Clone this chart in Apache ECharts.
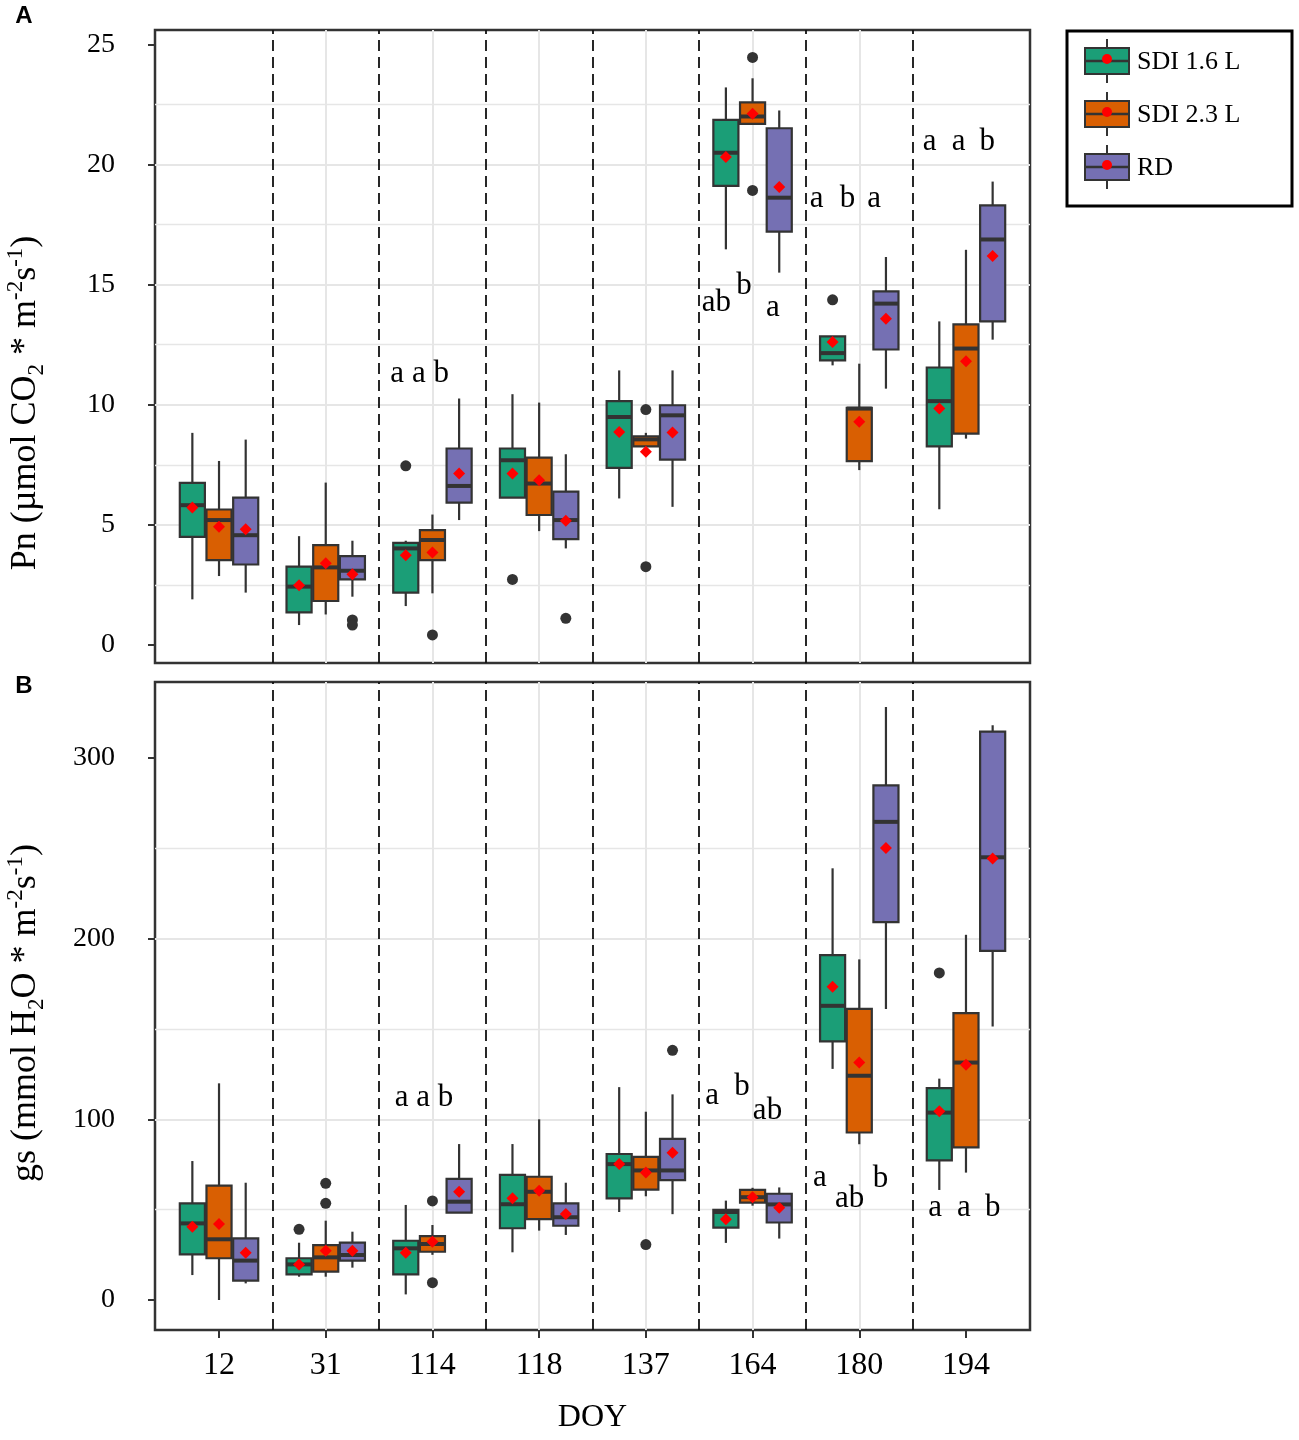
<!DOCTYPE html>
<html>
<head>
<meta charset="utf-8">
<title>Pn and gs by DOY</title>
<script src="https://cdn.jsdelivr.net/npm/echarts@6/dist/echarts.min.js"></script>
<style>
  html, body { margin: 0; padding: 0; background: #fff; }
  #chart { width: 1299px; height: 1440px; }
</style>
</head>
<body>
<div id="chart"></div>
<script>
// categories and treatments
var doy = ['12', '31', '114', '118', '137', '164', '180', '194'];
var treatments = ['SDI 1.6 L', 'SDI 2.3 L', 'RD'];
var pnTicks = [0, 5, 10, 15, 20, 25];
var gsTicks = [0, 100, 200, 300];

// box stats per DOY: [lower whisker, Q1, median, Q3, upper whisker]
// Pn (umol CO2 m-2 s-1)
var pnSdi16 = [
  [1.90, 4.50, 5.82, 6.75, 8.83],
  [0.83, 1.36, 2.43, 3.26, 4.53],
  [1.62, 2.18, 4.02, 4.25, 4.34],
  [6.13, 6.13, 7.69, 8.18, 10.44],
  [6.10, 7.37, 9.49, 10.15, 11.43],
  [16.47, 19.11, 20.49, 21.86, 23.21],
  [11.64, 11.85, 12.15, 12.85, 12.85],
  [5.65, 8.27, 10.15, 11.55, 13.47]
];
var pnSdi23 = [
  [2.87, 3.53, 5.20, 5.64, 7.66],
  [1.27, 1.83, 3.23, 4.16, 6.76],
  [2.15, 3.53, 4.37, 4.78, 5.43],
  [4.74, 5.41, 6.72, 7.80, 10.09],
  [8.27, 8.27, 8.56, 8.69, 8.83],
  [21.69, 21.69, 22.00, 22.59, 23.59],
  [7.28, 7.65, 9.84, 9.87, 11.71],
  [8.59, 8.80, 12.34, 13.35, 16.45]
];
var pnRd = [
  [2.18, 3.35, 4.57, 6.13, 8.55],
  [2.01, 2.73, 3.09, 3.70, 4.34],
  [5.20, 5.93, 6.62, 8.18, 10.26],
  [4.02, 4.41, 5.20, 6.38, 7.94],
  [5.75, 7.72, 9.56, 9.98, 11.43],
  [15.50, 17.21, 18.62, 21.51, 22.25],
  [10.67, 12.30, 14.21, 14.72, 16.15],
  [12.71, 13.47, 16.88, 18.30, 19.29]
];
var pnMeanSdi16 = [5.72, 2.49, 3.74, 7.14, 8.87, 20.31, 12.61, 9.84];
var pnMeanSdi23 = [4.92, 3.40, 3.85, 6.86, 8.04, 22.11, 9.29, 11.81];
var pnMeanRd = [4.82, 2.94, 7.14, 5.17, 8.84, 19.06, 13.58, 16.19];
// outliers: [DOY index, value]
var pnOutSdi16 = [[2, 7.46], [3, 2.73], [6, 14.37]];
var pnOutSdi23 = [[2, 0.42], [4, 9.80], [4, 3.26], [5, 24.46], [5, 18.92]];
var pnOutRd = [[1, 1.04], [1, 0.83], [3, 1.11]];
// letters: [DOY index, shift, value, text]
var pnLetters = [
  [2, -0.12, 11.3, 'a a b'],
  [5, -0.34, 14.26, 'ab'], [5, -0.08, 14.97, 'b'], [5, 0.19, 14.05, 'a'],
  [6, -0.40, 18.59, 'a'], [6, -0.11, 18.59, 'b'], [6, 0.14, 18.59, 'a'],
  [7, -0.34, 20.93, 'a'], [7, -0.07, 20.93, 'a'], [7, 0.20, 20.93, 'b']
];

// gs (mmol H2O m-2 s-1)
var gsSdi16 = [
  [13.8, 25.3, 42.4, 53.5, 76.9],
  [12.9, 14.2, 19.7, 23.1, 31.7],
  [3.1, 14.2, 28.6, 32.8, 52.6],
  [26.4, 39.7, 53.0, 69.2, 86.3],
  [48.7, 56.2, 75.2, 80.8, 117.8],
  [31.6, 40.0, 48.7, 49.9, 55.0],
  [127.9, 143.1, 162.8, 190.9, 238.9],
  [60.9, 77.3, 103.7, 117.3, 122.5]
];
var gsSdi23 = [
  [0, 23.1, 33.6, 63.3, 119.9],
  [12.9, 15.7, 23.6, 30.4, 43.9],
  [25.0, 26.7, 31.0, 35.4, 41.5],
  [38.4, 44.8, 59.9, 68.2, 100.0],
  [57.4, 61.1, 71.7, 79.2, 104.2],
  [52.2, 53.9, 56.9, 60.9, 62.1],
  [86.2, 92.7, 124.1, 161.1, 188.5],
  [70.5, 84.5, 131.4, 158.8, 202.1]
];
var gsRd = [
  [9.2, 10.7, 21.8, 34.1, 64.9],
  [17.9, 21.8, 24.9, 31.7, 37.8],
  [48.3, 48.3, 54.4, 67.0, 86.3],
  [36.0, 41.1, 45.8, 53.5, 64.9],
  [47.5, 66.3, 71.7, 89.2, 113.8],
  [34.0, 42.9, 52.9, 58.8, 62.3],
  [161.1, 209.1, 264.6, 284.8, 328.1],
  [151.3, 193.2, 245.0, 314.5, 318.0]
];
var gsMeanSdi16 = [40.6, 19.7, 26.2, 56.3, 75.2, 44.7, 173.3, 104.5];
var gsMeanSdi23 = [42.1, 27.3, 32.3, 60.5, 70.5, 56.9, 131.4, 130.2];
var gsMeanRd = [26.2, 27.3, 59.9, 47.6, 81.5, 51.1, 250.1, 244.3];
var gsOutSdi16 = [[1, 39.1], [7, 181.0]];
var gsOutSdi23 = [[1, 64.6], [1, 53.5], [2, 54.8], [2, 9.6], [4, 30.7]];
var gsOutRd = [[4, 138.2]];
var gsLetters = [
  [2, -0.08, 111.6, 'a a b'],
  [5, -0.38, 113.1, 'a'], [5, -0.10, 118.2, 'b'], [5, 0.14, 104.7, 'ab'],
  [6, -0.37, 67.5, 'a'], [6, -0.09, 55.9, 'ab'], [6, 0.20, 67.0, 'b'],
  [7, -0.29, 51.2, 'a'], [7, -0.02, 51.2, 'a'], [7, 0.25, 51.2, 'b']
];

var colors = ['#1B9E77', '#D95F02', '#7570B3'];
var dodge = [-0.25, 0, 0.25];
var BOX_W = 0.235;
var SERIF = 'Liberation Serif';
var INK = '#333333';
var GRID_C = '#E6E6E6';

var panels = [
  { box: [pnSdi16, pnSdi23, pnRd], mean: [pnMeanSdi16, pnMeanSdi23, pnMeanRd],
    out: [pnOutSdi16, pnOutSdi23, pnOutRd], letters: pnLetters },
  { box: [gsSdi16, gsSdi23, gsRd], mean: [gsMeanSdi16, gsMeanSdi23, gsMeanRd],
    out: [gsOutSdi16, gsOutSdi23, gsOutRd], letters: gsLetters }
];

function renderBox(params, api) {
  var x = api.value(0);
  var pLow = api.coord([x, api.value(1)]);
  var pQ1 = api.coord([x, api.value(2)]);
  var pMed = api.coord([x, api.value(3)]);
  var pQ3 = api.coord([x, api.value(4)]);
  var pHigh = api.coord([x, api.value(5)]);
  var half = api.size([BOX_W, 0])[0] / 2;
  return {
    type: 'group',
    children: [
      { type: 'line', shape: { x1: pLow[0], y1: pLow[1], x2: pHigh[0], y2: pHigh[1] },
        style: { stroke: INK, lineWidth: 2.2 } },
      { type: 'rect', shape: { x: pQ1[0] - half, y: pQ3[1], width: half * 2, height: pQ1[1] - pQ3[1] },
        style: { fill: api.visual('color'), stroke: INK, lineWidth: 2.2 } },
      { type: 'line', shape: { x1: pMed[0] - half, y1: pMed[1], x2: pMed[0] + half, y2: pMed[1] },
        style: { stroke: INK, lineWidth: 4 } }
    ]
  };
}

var series = [];
panels.forEach(function (pnl, p) {
  treatments.forEach(function (name, t) {
    var boxData = pnl.box[t].map(function (b, i) {
      return [i + dodge[t]].concat(b);
    });
    var s = {
      name: name,
      type: 'custom',
      xAxisIndex: p,
      yAxisIndex: p,
      renderItem: renderBox,
      itemStyle: { color: colors[t] },
      encode: { x: 0, y: [1, 2, 3, 4, 5] },
      data: boxData,
      z: 3
    };
    if (t === 0) {
      s.markLine = {
        silent: true,
        symbol: ['none', 'none'],
        label: { show: false },
        lineStyle: { type: [11, 6], color: '#111', width: 1.8, opacity: 1 },
        data: doy.slice(1).map(function (d, i) { return { xAxis: i + 0.5 }; })
      };
    }
    series.push(s);
    series.push({
      type: 'scatter',
      xAxisIndex: p,
      yAxisIndex: p,
      symbol: 'circle',
      symbolSize: 11,
      itemStyle: { color: INK, opacity: 1 },
      data: pnl.out[t].map(function (o) { return [o[0] + dodge[t], o[1]]; }),
      z: 4
    });
    series.push({
      type: 'scatter',
      xAxisIndex: p,
      yAxisIndex: p,
      symbol: 'diamond',
      symbolSize: 12,
      itemStyle: { color: '#FF0000', opacity: 1 },
      data: pnl.mean[t].map(function (m, i) { return [i + dodge[t], m]; }),
      z: 5
    });
  });
  series.push({
    type: 'scatter',
    xAxisIndex: p,
    yAxisIndex: p,
    symbolSize: 1,
    itemStyle: { color: 'rgba(255,255,255,0)', opacity: 1 },
    silent: true,
    label: {
      show: true,
      position: 'inside',
      formatter: '{b}',
      fontFamily: SERIF,
      fontSize: 31,
      color: '#000',
      opacity: 1,
      textBorderWidth: 0
    },
    data: pnl.letters.map(function (l) {
      return { name: l[3], value: [l[0] + l[1], l[2]] };
    }),
    z: 6
  });
});

function xAxisFor(p) {
  var bottom = p === 1;
  return {
    type: 'value',
    gridIndex: p,
    min: -0.6,
    max: 7.6,
    minInterval: 1,
    maxInterval: 1,
    axisLine: { show: false, onZero: false },
    axisTick: {
      show: bottom, length: 8, customValues: [0, 1, 2, 3, 4, 5, 6, 7],
      lineStyle: { color: INK, width: 2 }
    },
    axisLabel: {
      show: bottom,
      customValues: [0, 1, 2, 3, 4, 5, 6, 7],
      formatter: function (v) { return Number.isInteger(v) ? doy[v] : ''; },
      fontFamily: SERIF, fontSize: 32, color: '#000', margin: 20
    },
    splitLine: { show: true, showMinLine: false, showMaxLine: false,
      lineStyle: { color: GRID_C, width: 2 } },
    name: bottom ? 'DOY' : '',
    nameLocation: 'middle',
    nameGap: 72,
    nameTextStyle: { fontFamily: SERIF, fontSize: 32, color: '#000' }
  };
}

function yAxisFor(p, min, max, step, ticks) {
  return {
    type: 'value',
    gridIndex: p,
    min: min,
    max: max,
    minInterval: step,
    maxInterval: step,
    axisLine: { show: false, onZero: false },
    axisTick: { show: true, length: 7, customValues: ticks, lineStyle: { color: INK, width: 2 } },
    axisLabel: {
      customValues: ticks,
      formatter: function (v) { return ticks.indexOf(v) >= 0 ? String(v) : ''; },
      fontFamily: SERIF, fontSize: 28, color: '#000', margin: 40
    },
    splitLine: { show: true, showMinLine: false, showMaxLine: false,
      lineStyle: { color: GRID_C, width: 2 } },
    minorTick: { show: false, splitNumber: 2 },
    minorSplitLine: { show: true, lineStyle: { color: GRID_C, width: 1.4 } }
  };
}

// legend drawn as small boxplot glyphs
var legendChildren = [
  { type: 'rect', shape: { x: 1067, y: 31, width: 225, height: 175 },
    style: { fill: '#fff', stroke: '#000', lineWidth: 3 } }
];
treatments.forEach(function (name, t) {
  var cy = 61 + t * 53;
  legendChildren.push(
    { type: 'line', shape: { x1: 1107, y1: cy - 22, x2: 1107, y2: cy + 22 }, style: { stroke: INK, lineWidth: 2 } },
    { type: 'rect', shape: { x: 1085, y: cy - 13, width: 44, height: 26 }, style: { fill: colors[t], stroke: INK, lineWidth: 2 } },
    { type: 'line', shape: { x1: 1085, y1: cy, x2: 1129, y2: cy }, style: { stroke: INK, lineWidth: 2.5 } },
    { type: 'circle', shape: { cx: 1107, cy: cy - 2, r: 5 }, style: { fill: '#FF0000' } },
    { type: 'text', x: 1137, y: cy + 1,
      style: { text: name, font: '26px "Liberation Serif"', fill: '#000',
        align: 'left', verticalAlign: 'middle', textAlign: 'left', textVerticalAlign: 'middle' } }
  );
});

function titleText(x, y, text) {
  return {
    type: 'text', x: x, y: y, rotation: Math.PI / 2,
    style: {
      text: text,
      align: 'center', verticalAlign: 'middle', textAlign: 'center', textVerticalAlign: 'middle',
      fill: '#000',
      rich: {
        m: { fontFamily: SERIF, fontSize: 36, lineHeight: 44, fill: '#000', color: '#000' },
        sub: { fontFamily: SERIF, fontSize: 23, lineHeight: 23, verticalAlign: 'bottom', fill: '#000', color: '#000' },
        sup: { fontFamily: SERIF, fontSize: 23, lineHeight: 23, verticalAlign: 'top', fill: '#000', color: '#000' }
      }
    }
  };
}

var option = {
  backgroundColor: '#ffffff',
  animation: false,
  grid: [
    { left: 155, top: 30, width: 875, height: 633, show: true, borderColor: INK, borderWidth: 2.5, backgroundColor: 'rgba(0,0,0,0)' },
    { left: 155, top: 682, width: 875, height: 648, show: true, borderColor: INK, borderWidth: 2.5, backgroundColor: 'rgba(0,0,0,0)' }
  ],
  xAxis: [xAxisFor(0), xAxisFor(1)],
  yAxis: [
    yAxisFor(0, -0.75, 25.6, 5, pnTicks),
    yAxisFor(1, -16.6, 342, 100, gsTicks)
  ],
  series: series,
  graphic: [
    { type: 'group', children: legendChildren },
    titleText(26, 403, '{m|Pn (µmol CO}{sub|2}{m| * m}{sup|-2}{m|s}{sup|-1}{m|)}'),
    titleText(26, 1013, '{m|gs (mmol H}{sub|2}{m|O * m}{sup|-2}{m|s}{sup|-1}{m|)}'),
    { type: 'text', x: 24, y: 16, style: { text: 'A', font: 'bold 24px "Liberation Sans"', fill: '#000',
      align: 'center', verticalAlign: 'middle', textAlign: 'center', textVerticalAlign: 'middle' } },
    { type: 'text', x: 24, y: 686, style: { text: 'B', font: 'bold 24px "Liberation Sans"', fill: '#000',
      align: 'center', verticalAlign: 'middle', textAlign: 'center', textVerticalAlign: 'middle' } }
  ]
};

var chart = echarts.init(document.getElementById('chart'));
chart.setOption(option);
</script>
</body>
</html>
